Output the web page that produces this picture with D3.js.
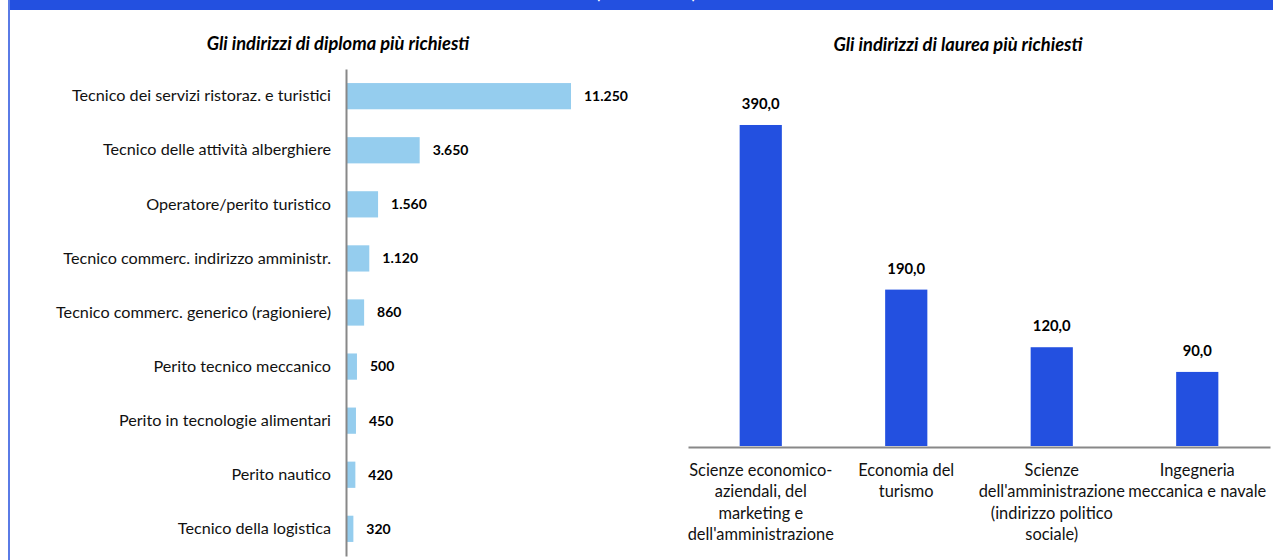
<!DOCTYPE html>
<html>
<head>
<meta charset="utf-8">
<script src="https://cdn.jsdelivr.net/npm/d3@7"></script>
<style>
  html, body { margin: 0; padding: 0; background: #fff; }
  svg { display: block; font-family: Lato, "Liberation Sans", sans-serif; }
</style>
</head>
<body>
<svg id="chart" width="1273" height="560"></svg>
<script>
// Diplomi più richiesti (valori assoluti)
const diplomaCategories = [
  "Tecnico dei servizi ristoraz. e turistici",
  "Tecnico delle attività alberghiere",
  "Operatore/perito turistico",
  "Tecnico commerc. indirizzo amministr.",
  "Tecnico commerc. generico (ragioniere)",
  "Perito tecnico meccanico",
  "Perito in tecnologie alimentari",
  "Perito nautico",
  "Tecnico della logistica"
];
const diplomaValues = [11250, 3650, 1560, 1120, 860, 500, 450, 420, 320];

// Lauree più richieste (valori assoluti)
const laureaCategories = [
  ["Scienze economico-", "aziendali, del", "marketing e", "dell'amministrazione"],
  ["Economia del", "turismo"],
  ["Scienze", "dell'amministrazione", "(indirizzo politico", "sociale)"],
  ["Ingegneria", "meccanica e navale"]
];
const laureaValues = [390, 190, 120, 90];

const headerText = "(valori assoluti)";
const leftTitle = "Gli indirizzi di diploma più richiesti";
const rightTitle = "Gli indirizzi di laurea più richiesti";

const svg = d3.select("#chart");
const BLUE = "#2350e0";
const LIGHT = "#95cdee";
const AXIS = "#888888";

// header band and frame
svg.append("rect").attr("x", 8).attr("y", 0).attr("width", 1265).attr("height", 10).attr("fill", BLUE);
svg.append("text").attr("x", 646).attr("y", -1).attr("text-anchor", "middle")
  .attr("fill", "#fff").attr("font-size", 15).attr("font-weight", "bold").text(headerText);
svg.append("line").attr("x1", 9).attr("x2", 9).attr("y1", 0).attr("y2", 560)
  .attr("stroke", "#5a7be6").attr("stroke-width", 2);

// titles
svg.append("text").attr("x", 338).attr("y", 50).attr("text-anchor", "middle")
  .attr("font-size", 18.3).attr("font-weight", "bold").attr("font-style", "italic").text(leftTitle);
svg.append("text").attr("x", 958).attr("y", 51).attr("text-anchor", "middle")
  .attr("font-size", 18.3).attr("font-weight", "bold").attr("font-style", "italic").text(rightTitle);

// ---- left: horizontal bars ----
const x = d3.scaleLinear().domain([0, 11250]).range([347, 571]);
const y = d3.scaleBand().domain(diplomaCategories).range([69, 556]).paddingInner(0.515).paddingOuter(0.26);

const left = svg.append("g");
left.selectAll("rect").data(diplomaValues).join("rect")
  .attr("x", x(0))
  .attr("y", (d, i) => y(diplomaCategories[i]))
  .attr("width", d => x(d) - x(0))
  .attr("height", y.bandwidth())
  .attr("fill", LIGHT);

const fmtInt = d3.formatLocale({ decimal: ",", thousands: ".", grouping: [3], currency: ["", "€"] }).format(",d");
left.selectAll("text.val").data(diplomaValues).join("text")
  .attr("class", "val")
  .attr("x", d => x(d) + 13)
  .attr("y", (d, i) => y(diplomaCategories[i]) + y.bandwidth() / 2)
  .attr("dy", "0.35em")
  .attr("font-size", 14).attr("font-weight", "bold")
  .text(d => fmtInt(d));

const yAxis = d3.axisLeft(y).tickSize(0).tickPadding(15);
const ya = svg.append("g").attr("transform", `translate(${x(0) - 1},0)`).call(yAxis);
ya.select(".domain").attr("stroke", AXIS).attr("stroke-width", 2);
ya.selectAll("text").attr("font-size", 16.2).attr("fill", "#111").attr("font-family", "Lato, sans-serif");

// ---- right: vertical bars ----
const xb = d3.scaleBand().domain(d3.range(laureaValues.length)).range([688, 1270]).paddingInner(0.71).paddingOuter(0.355);
const yb = d3.scaleLinear().domain([0, 450]).range([446, 75.6]);

const right = svg.append("g");
right.selectAll("rect").data(laureaValues).join("rect")
  .attr("x", (d, i) => xb(i))
  .attr("y", d => yb(d))
  .attr("width", xb.bandwidth())
  .attr("height", d => yb(0) - yb(d))
  .attr("fill", BLUE);

const fmtDec = d3.formatLocale({ decimal: ",", thousands: ".", grouping: [3], currency: ["", "€"] }).format(".1f");
right.selectAll("text.val").data(laureaValues).join("text")
  .attr("class", "val")
  .attr("x", (d, i) => xb(i) + xb.bandwidth() / 2)
  .attr("y", d => yb(d) - 16)
  .attr("text-anchor", "middle")
  .attr("font-size", 14.8).attr("font-weight", "bold")
  .text(d => fmtDec(d));

const xAxis = d3.axisBottom(xb).tickSize(0).tickFormat("");
const xa = svg.append("g").attr("transform", `translate(0,${yb(0) + 1})`).call(xAxis);
xa.select(".domain").attr("stroke", AXIS).attr("stroke-width", 2);

const lbl = right.selectAll("text.cat").data(laureaCategories).join("text")
  .attr("class", "cat")
  .attr("text-anchor", "middle")
  .attr("font-size", 16.4).attr("fill", "#111")
  .attr("transform", (d, i) => `translate(${xb(i) + xb.bandwidth() / 2},476)`);
lbl.selectAll("tspan").data(d => d).join("tspan")
  .attr("x", 0).attr("y", (d, j) => j * 21.3)
  .text(d => d);
</script>
</body>
</html>
